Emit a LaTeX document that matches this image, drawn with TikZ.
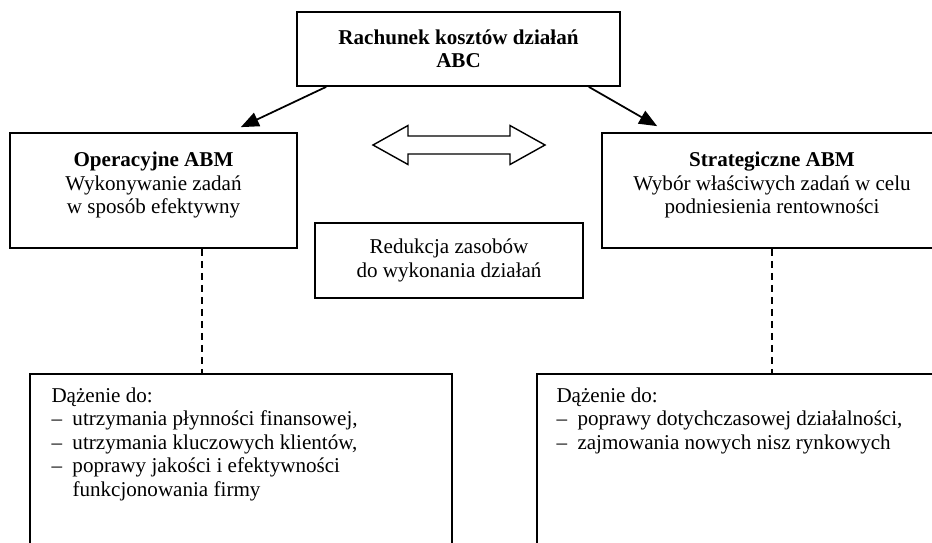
\documentclass[tikz,border=0pt]{standalone}
\usepackage{fontspec}
\setmainfont{Liberation Serif}
\usetikzlibrary{arrows.meta, positioning}

\newcommand{\punkt}{\makebox[0.42cm][l]{–}}

\begin{document}
\begin{tikzpicture}[
  x=0.02cm, y=-0.02cm,
  every node/.style={font=\fontsize{12}{13.6}\selectfont},
  box/.style={draw, line width=1pt, inner sep=0pt},
  txt/.style={align=center, inner sep=0pt},
  lst/.style={align=left, inner sep=0pt, font=\fontsize{12}{13.4}\selectfont},
  link/.style={line width=1pt, -{Triangle[length=0.36cm, width=0.29cm]}},
  guide/.style={line width=1pt, dash pattern=on 0.14cm off 0.1cm}
]
\path[use as bounding box, clip] (0,0) rectangle (932,542);

% boxes
\node[box, txt, minimum width=6.46cm, minimum height=1.48cm, font=\fontsize{12}{13.2}\selectfont\bfseries]
  (abc) at (458.5,49) {Rachunek kosztów działań\\ABC};
\node[box, minimum width=5.74cm, minimum height=2.3cm] (op) at (153.5,190.5) {};
\node[box, minimum width=6.8cm, minimum height=2.3cm] (rs) at (772,190.5) {};
\node[box, txt, minimum width=5.36cm, minimum height=1.5cm] (red) at (449,260.5)
  {Redukcja zasobów\\do wykonania działań};
\node[box, minimum width=8.44cm, minimum height=4.52cm] (ol) at (241,487) {};
\node[box, minimum width=9.4cm, minimum height=4.52cm] (or) at (772,487) {};

% texts in the boxes
\node[txt, below=0.38cm of op.north] (optxt)
  {\textbf{Operacyjne ABM}\\Wykonywanie zadań\\w sposób efektywny};
\node[txt, below=0.38cm of rs.north] (rstxt)
  {\textbf{Strategiczne ABM}\\Wybór właściwych zadań w celu\\podniesienia rentowności};
\node[lst, below right=0.28cm and 0.44cm of ol.north west] (oltxt)
  {Dążenie do:\\
   \punkt utrzymania płynności finansowej,\\
   \punkt utrzymania kluczowych klientów,\\
   \punkt poprawy jakości i efektywności\\
   \hspace*{0.42cm}funkcjonowania firmy};
\node[lst, below right=0.28cm and 0.4cm of or.north west] (ortxt)
  {Dążenie do:\\
   \punkt poprawy dotychczasowej działalności,\\
   \punkt zajmowania nowych nisz rynkowych};

% arrows
\draw[link] ([shift={(30,0)}]abc.south west) -- ([shift={(-57,-5)}]op.north east);
\draw[link] ([shift={(-32,0)}]abc.south east) -- ([shift={(56,-6)}]rs.north west);

% double arrow
\draw[line width=0.8pt] (373,145) -- (408,125.5) -- (408,136) -- (510,136) -- (510,125.5)
  -- (545,145) -- (510,164.5) -- (510,154) -- (408,154) -- (408,164.5) -- cycle;

% dashed links
\coordinate (d1) at ([shift={(48.5,0)}]op.south);
\draw[guide] (d1) -- (d1 |- ol.north);
\draw[guide] (rs.south) -- (rs.south |- or.north);
\end{tikzpicture}
\end{document}
